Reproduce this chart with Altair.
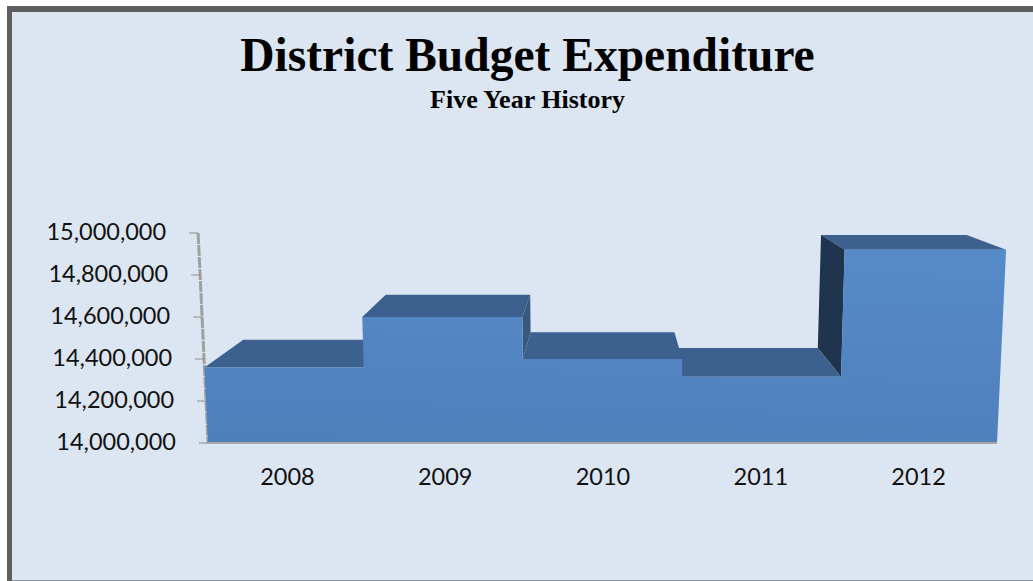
import altair as alt
import numpy as np
import pandas as pd

years = [2008, 2009, 2010, 2011, 2012]
spending = [14360000, 14600000, 14400000, 14315000, 14920000]
y_ticks = [14000000, 14200000, 14400000, 14600000, 14800000, 15000000]
title_text = "District Budget Expenditure"
subtitle_text = "Five Year History"

# Geometry of the perspective box, in data units.
X_LEFT, X_RIGHT = 2007.5, 2012.5
Y_BASE = 14000000
VANISH_X, VANISH_Y = 2010.0, 15560000
DEPTH_X, DEPTH_Y = 0.0975, 0.11
LEAN = 0.025

PX_PER_YEAR = 157.8
PX_PER_UNIT = 210 / 1000000
WIDTH, HEIGHT = 1033, 293
PAD_TOP, PAD_BOTTOM = 150, 138
X_DOMAIN = [X_LEFT - 208 / PX_PER_YEAR, X_LEFT + (WIDTH - 208) / PX_PER_YEAR]
Y_DOMAIN = [Y_BASE, Y_BASE + HEIGHT / PX_PER_UNIT]

FRONT_TOP, FRONT_BOTTOM = "#568ac8", "#4e80bc"
TOP_FACE = "#3d618f"
SIDE_DARK = "#1f344f"
SIDE_MID = "#38587f"
PANEL = "#dce6f2"
FRAME = "#5f5f5f"
FOOT = "#8a95a1"
TEXT_FONT = "Lato"
TITLE_FONT = "Liberation Serif"
LABEL_SIZE = 23.5


def front(x, v):
    """Point on the front plane, which leans outward with height."""
    return x + (x - VANISH_X) * LEAN * (v - Y_BASE) / 1000000, v


def back(x, v):
    """Front-plane point pushed back towards the vanishing point."""
    fx, fv = front(x, v)
    return fx + (VANISH_X - fx) * DEPTH_X, fv + (VANISH_Y - fv) * DEPTH_Y


def polygon(points):
    """Turn a convex polygon into area rows with an upper and lower edge."""
    pts = sorted(points)
    xs = sorted({p[0] for p in pts})
    (x0, v0), (x1, v1) = pts[0], pts[-1]
    chord = lambda x: v0 + (v1 - v0) * (x - x0) / (x1 - x0)
    upper = [p for p in pts if p[1] >= chord(p[0])]
    lower = [p for p in pts if p[1] <= chord(p[0])]
    return pd.DataFrame({
        "x": xs,
        "hi": np.interp(xs, [p[0] for p in upper], [p[1] for p in upper]),
        "lo": np.interp(xs, [p[0] for p in lower], [p[1] for p in lower]),
    })


x_scale = alt.Scale(domain=X_DOMAIN, range=[0, WIDTH], nice=False, zero=False)
y_scale = alt.Scale(domain=Y_DOMAIN, range=[HEIGHT, 0], nice=False, zero=False)
year_axis = alt.Axis(values=years, format="d", domain=False, ticks=False, grid=False,
                     labelFont=TEXT_FONT, labelFontSize=LABEL_SIZE, labelColor="#111111",
                     labelPadding=22, labelOverlap=False, zindex=1)
x_enc = alt.X("x:Q", scale=x_scale, title=None, axis=year_axis)
y_enc = alt.Y("hi:Q", scale=y_scale, title=None, axis=None)


def face(points, fill):
    return alt.Chart(polygon(points)).mark_area(fill=fill, clip=False).encode(
        x=x_enc, y=y_enc, y2="lo:Q")


one_row = pd.DataFrame({"a": [0]})


def box(x0, x1, y0, y1, fill):
    return alt.Chart(one_row).mark_rect(fill=fill, clip=False).encode(
        x=alt.value(x0), x2=alt.value(x1), y=alt.value(y0 - PAD_TOP), y2=alt.value(y1 - PAD_TOP))


def heading(text, y, size):
    return alt.Chart(pd.DataFrame({"t": [text]})).mark_text(
        align="center", baseline="alphabetic", font=TITLE_FONT, fontSize=size,
        fontWeight="bold", color="#000000", clip=False
    ).encode(x=alt.value(527.5), y=alt.value(y - PAD_TOP), text="t:N")


layers = [
    box(7, 1033, 6, 581, FRAME),
    box(12, 1033, 12, 580, PANEL),
    box(12, 1033, 580, 581, FOOT),
    heading(title_text, 71, 47.5),
    heading(subtitle_text, 108, 26),
]

# Axis wall line with its leaning ticks and labels.
wall = pd.DataFrame([{"x": front(X_LEFT, v)[0], "hi": v} for v in [Y_BASE, y_ticks[-1]]])
layers.append(alt.Chart(wall).mark_line(color="#a0a0a0", strokeWidth=3, strokeDash=[11, 1]).encode(
    x=x_enc, y=y_enc))
tick_rows = pd.DataFrame({
    "hi": y_ticks,
    "x": [front(X_LEFT, v)[0] for v in y_ticks],
})
tick_rows["x_out"] = tick_rows["x"] - 9 / PX_PER_YEAR
tick_rows["x_text"] = tick_rows["x"] - 32 / PX_PER_YEAR
layers.append(alt.Chart(tick_rows).mark_rule(color="#8c8c8c", strokeWidth=1).encode(
    x=x_enc, x2="x_out:Q", y=y_enc))
layers.append(alt.Chart(tick_rows).mark_text(
    align="right", baseline="middle", font=TEXT_FONT, fontSize=LABEL_SIZE, color="#111111"
).encode(
    x=alt.X("x_text:Q", scale=x_scale, title=None, axis=year_axis),
    y=y_enc,
    text=alt.Text("hi:Q", format=",d"),
))

# Far bars are painted first so the ones nearer the vanishing point overlap them.
edges = [X_LEFT + i for i in range(len(years) + 1)]
order = sorted(range(len(years)), key=lambda i: -abs(years[i] - VANISH_X))
for i in order:
    xa, xb, v = edges[i], edges[i + 1], spending[i]
    layers.append(face([front(xa, v), front(xb, v), back(xb, v), back(xa, v)], TOP_FACE))
    # A side wall shows only above the shorter neighbour on the side facing the centre.
    if xa > VANISH_X and i > 0 and spending[i - 1] < v:
        low = spending[i - 1]
        layers.append(face([front(xa, v), back(xa, v), back(xa, low), front(xa, low)], SIDE_DARK))
    if xb < VANISH_X and i + 1 < len(years) and spending[i + 1] < v:
        low = spending[i + 1]
        layers.append(face([front(xb, v), back(xb, v), back(xb, low), front(xb, low)], SIDE_MID))

# Front outline: one stepped shape so the gradient runs unbroken across all bars.
rows = [(front(X_LEFT, spending[0])[0], spending[0], spending[0]),
        (X_LEFT, spending[0], Y_BASE)]
for i, v in enumerate(spending):
    rows.append((front(edges[i], v)[0], v, Y_BASE))
    if i + 1 < len(spending):
        rows.append((front(edges[i + 1], v)[0], v, Y_BASE))
rows.append((X_RIGHT, spending[-1], Y_BASE))
rows.append((front(X_RIGHT, spending[-1])[0], spending[-1], spending[-1]))
outline = pd.DataFrame(rows, columns=["x", "hi", "lo"])
gradient = alt.Gradient(gradient="linear", x1=0.5, y1=0, x2=0.4, y2=1,
                        stops=[alt.GradientStop(color=FRONT_TOP, offset=0),
                               alt.GradientStop(color=FRONT_BOTTOM, offset=1)])
layers.append(alt.Chart(outline).mark_area(fill=gradient, clip=False, orient="vertical", order=False).encode(
    x=x_enc, y=y_enc, y2="lo:Q"))

# Floor line along the base of the bars.
floor = pd.DataFrame({"x": [X_LEFT], "x_end": [X_RIGHT], "hi": [Y_BASE]})
layers.append(alt.Chart(floor).mark_rule(color="#a6a6a6", strokeWidth=2).encode(
    x=x_enc, x2="x_end:Q", y=y_enc))

chart = alt.layer(*layers).properties(
    width=WIDTH, height=HEIGHT,
    padding={"left": 0, "right": 0, "top": PAD_TOP, "bottom": PAD_BOTTOM},
    autosize=alt.AutoSizeParams(type="none"),
    background="#ffffff",
).configure_view(stroke=None)

chart.save("out.html", embed_options={"renderer": "svg", "actions": False})
